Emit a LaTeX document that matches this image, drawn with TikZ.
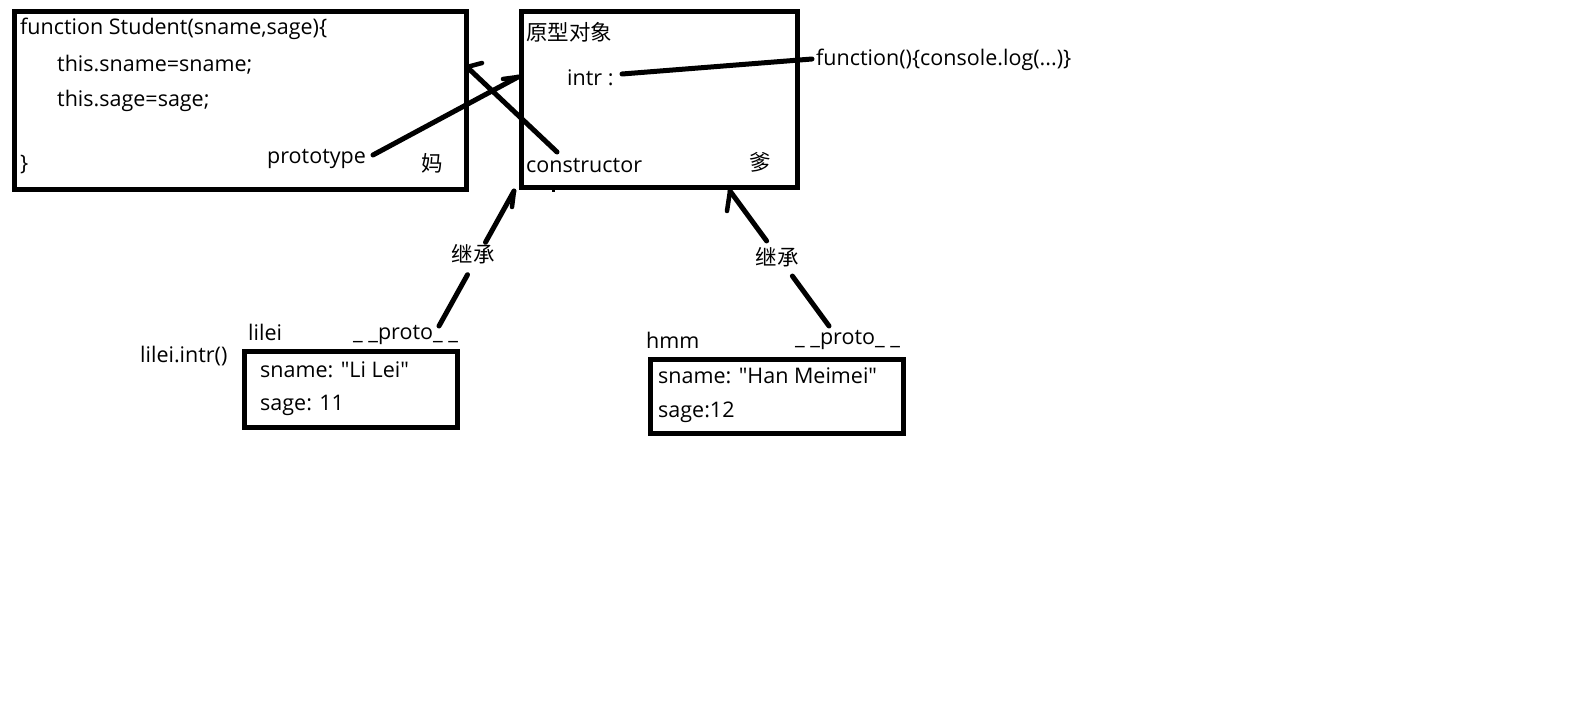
\documentclass[tikz,border=0pt]{standalone}
\usepackage{fontspec}
\usetikzlibrary{calc}
\setmainfont{Open Sans}[Ligatures=TeXOff]
\newfontfamily\cjk{Noto Sans CJK SC}
\begin{document}
\begin{tikzpicture}[x=1pt,y=-1pt,
  box/.style={draw=black,line width=5pt,rectangle,inner sep=0pt,anchor=north west},
  lbl/.style={inner sep=0pt,anchor=west,yshift=-2pt,font=\fontsize{21.5}{24}\selectfont},
  clbl/.style={inner sep=0pt,font=\fontsize{21.5}{24}\selectfont\cjk},
  wire/.style={line width=5pt,line cap=round},
  barb/.style={line width=4.5pt,line cap=round}]
\useasboundingbox[fill=white] (0,0) rectangle (1576,704);
% boxes
\node[box,minimum width=452pt,minimum height=178pt] (mom) at (12,9) {};
\node[box,minimum width=276pt,minimum height=176pt] (proto) at (519,9) {};
\node[box,minimum width=213pt,minimum height=76pt] (lilei) at (242,349) {};
\node[box,minimum width=253pt,minimum height=74pt] (hmm) at (648,357) {};
% texts in constructor box
\node[lbl] (t1) at (20,27) {function Student(sname,sage)\{};
\node[lbl] (t2) at (57,63) {this.sname=sname;};
\node[lbl] (t3) at (57,99) {this.sage=sage;};
\node[lbl] (t4) at (20,163) {\}};
\node[lbl] (ptype) at (267,157) {prototype};
\node[clbl] (ma) at (432,163) {妈};
% texts in prototype box
\node[clbl,anchor=west] (yx) at (526,32) {原型对象};
\node[lbl] (intr) at (567,76) {intr :};
\node[lbl] (ctor) at (526,164) {constructor};
\node[clbl] (die) at (760,162) {爹};
\node[lbl] (fn) at (816,58) {function()\{console.log(...)\}};
% instances
\node[lbl] (lname) at (248,330) {lilei};
\node[lbl] (lproto) at (353,333) {\_ \_proto\_ \_};
\node[lbl] (lcall) at (140,354) {lilei.intr()};
\node[lbl] (ls1) at (260,368) {sname: "Li Lei"};
\node[lbl] (ls2) at (260,403) {sage: 11};
\node[lbl] (hname) at (646,338) {hmm};
\node[lbl] (hproto) at (795,338) {\_ \_proto\_ \_};
\node[lbl] (hs1) at (658,374) {sname: "Han Meimei"};
\node[lbl] (hs2) at (658,410) {sage:12};
\node[clbl] (jc1) at (473,254) {继承};
\node[clbl] (jc2) at (777,257) {继承};
% coordinates
\coordinate (pstart) at (373,155);
\coordinate (ptip) at (518,77);
\coordinate (pbarb) at (503,79);
\coordinate (cstart) at (557,152);
\coordinate (ctip) at (467,67);
\coordinate (cbarb) at (482,63);
\coordinate (istart) at (622,74);
\coordinate (iend) at (812,59);
\coordinate (lstart) at (439,326);
\coordinate (ltip) at (514,191);
\coordinate (lbarb) at (512,207);
\coordinate (hstart) at (829,326);
\coordinate (htip) at (730,191);
\coordinate (hbarb) at (727,211);
% connectors
\draw[wire] (pstart) -- (ptip);
\draw[barb] (ptip) -- (pbarb);
\draw[wire] (cstart) -- (ctip);
\draw[barb] (ctip) -- (cbarb);
\draw[wire] (istart) -- (iend);
\draw[wire] (lstart) -- ($(lstart)!0.38!(ltip)$);
\draw[wire] ($(lstart)!0.62!(ltip)$) -- (ltip);
\draw[barb] (ltip) -- (lbarb);
\draw[wire] (hstart) -- ($(hstart)!0.37!(htip)$);
\draw[wire] ($(hstart)!0.63!(htip)$) -- (htip);
\draw[barb] (htip) -- (hbarb);
% small stubs
\draw[line width=3pt] (553,188) -- (553,192);
\draw[line width=3pt] (721,433) -- (721,436);
\end{tikzpicture}
\end{document}
